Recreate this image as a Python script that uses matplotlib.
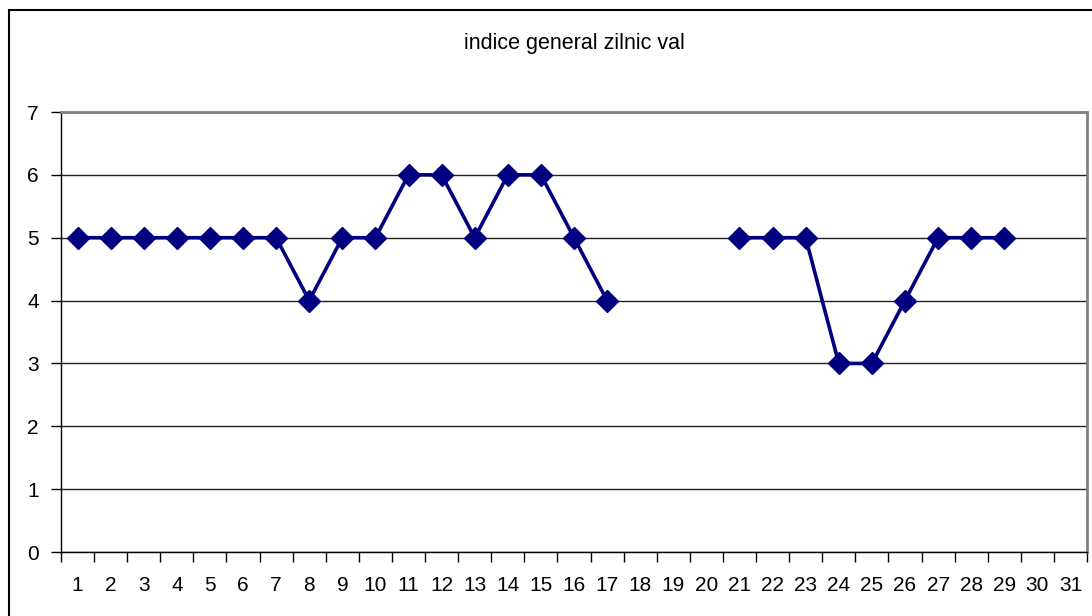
import numpy as np
import matplotlib
matplotlib.use("Agg")
import matplotlib.pyplot as plt
from matplotlib.patches import Rectangle

# Dades del gràfic: dies 1..31 i l'índex diari (NaN = sense dada)
zile = list(range(1, 32))
indice = [5, 5, 5, 5, 5, 5, 5, 4, 5, 5, 6, 6, 5, 6, 6, 5, 4,
          np.nan, np.nan, np.nan,
          5, 5, 5, 3, 3, 4, 5, 5, 5,
          np.nan, np.nan]
titlu = "indice general zilnic val"

plt.rcParams["font.family"] = ["Liberation Sans", "DejaVu Sans"]

fig = plt.figure(figsize=(10.92, 6.16), dpi=100)
ax = fig.add_axes([61 / 1092, 64 / 616, 1026 / 1092, 440 / 616])

# Vora exterior del gràfic (estil Excel)
fig.patches.append(Rectangle((9 / 1092, -0.1), 1.2, 1.1 - 10 / 616,
                             transform=fig.transFigure, fill=False,
                             edgecolor="black", linewidth=1.5))

x = np.arange(len(zile))
ax.plot(x, indice, color="#000080", linewidth=2.6, marker="D",
        markersize=11, markerfacecolor="#000080", markeredgecolor="#000080",
        zorder=3)

ax.set_xlim(-0.5, len(zile) - 0.5)
ax.set_ylim(0, 7)

# Línies de graella horitzontals
ax.set_yticks(range(0, 8))
ax.yaxis.grid(True, color="#202020", linewidth=1.0)
ax.set_axisbelow(True)

# Ticks de l'eix x entre categories, etiquetes al centre
ax.set_xticks(np.arange(-0.5, len(zile), 1.0))
ax.set_xticklabels([])
ax.set_xticks(x, minor=True)
ax.set_xticklabels([str(z) for z in zile], minor=True, fontsize=15)
ax.tick_params(axis="x", which="minor", length=0, pad=17)
ax.tick_params(axis="x", which="major", direction="out", length=7,
               width=1.0, color="black")
ax.tick_params(axis="y", direction="out", length=7, width=1.0,
               labelsize=15, pad=9)

for s in ["top", "right"]:
    ax.spines[s].set_color("#808080")
    ax.spines[s].set_linewidth(2.0)
for s in ["left", "bottom"]:
    ax.spines[s].set_color("black")
    ax.spines[s].set_linewidth(1.0)

fig.text((61 + 1087) / 2 / 1092, 1 - 44 / 616, titlu, ha="center",
         va="center", fontsize=15.5)

fig.savefig("out.png", dpi=100)
